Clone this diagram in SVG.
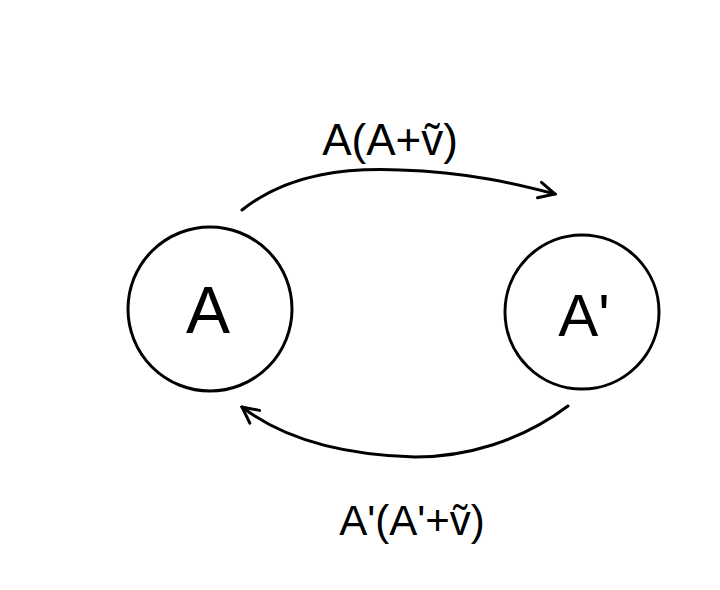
<svg xmlns="http://www.w3.org/2000/svg" width="720" height="590" viewBox="0 0 720 590">
<style>
.node{fill:none;stroke:#000;stroke-width:3}
.edge{fill:none;stroke:#000;stroke-width:3;stroke-linecap:round}
.lbl{font-family:"Liberation Sans",Arial,sans-serif;fill:#000}
</style>
<defs>
<marker id="arr" viewBox="0 0 20 20" refX="18" refY="10" markerWidth="20" markerHeight="20" markerUnits="userSpaceOnUse" orient="auto">
<path d="M2,2 L18,10 L2,18" fill="none" stroke="#000" stroke-width="3" stroke-linecap="round"/>
</marker>
</defs>
<rect width="720" height="590" fill="#fff"/>
<g id="node-A">
<circle class="node" cx="210" cy="309" r="82"/>
<text class="lbl" x="208" y="333" font-size="66" text-anchor="middle">A</text>
</g>
<g id="node-A-prime">
<circle class="node" cx="582" cy="312" r="77"/>
<text class="lbl" x="584" y="336" font-size="60" text-anchor="middle">A'</text>
</g>
<g id="connectors">
<path class="edge" d="M242,210 C290,172 350,168 400,170 C470,172 520,185 555,194" marker-end="url(#arr)"/>
<path class="edge" d="M568,406 C520,442 465,457 415,457 C345,455 285,440 242,407" marker-end="url(#arr)"/>
</g>
<g id="labels">
<text class="lbl" x="390" y="155" font-size="44" text-anchor="middle">A(A+ṽ)</text>
<text class="lbl" x="412" y="535" font-size="42" text-anchor="middle">A'(A'+ṽ)</text>
</g>
</svg>
